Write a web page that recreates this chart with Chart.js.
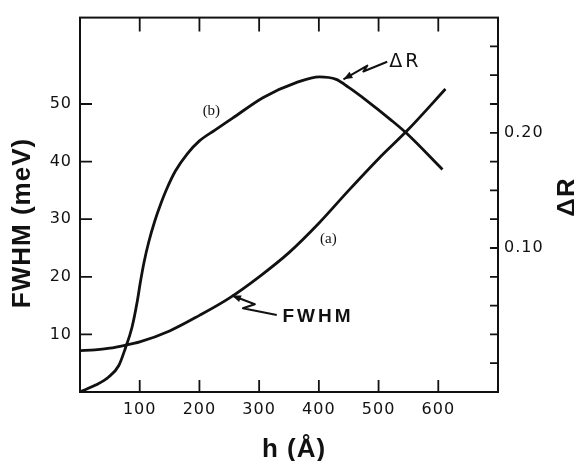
<!DOCTYPE html>
<html><head><meta charset="utf-8">
<script src="https://cdn.jsdelivr.net/npm/chart.js@4"></script>
<style>html,body{margin:0;padding:0;background:#fff}</style>
</head><body>
<canvas id="c" width="574" height="461"></canvas>
<script>
// ---- data ----
const hFWHM      = [0, 25, 50, 75, 100, 150, 200, 250, 300, 350, 400, 450, 500, 550, 612];
const fwhmValues = [7.2, 7.3, 7.6, 8.1, 8.7, 10.6, 13.3, 16.3, 20.0, 24.2, 29.3, 35.0, 40.5, 45.6, 52.6];

const hDeltaR      = [0, 26, 48, 65, 76, 87, 96, 101, 107, 115, 125, 135, 145, 160, 180, 200, 226, 255, 307, 362, 401, 429, 450, 480, 520, 546, 607];
const deltaRValues = [-0.025, -0.019, -0.012, -0.002, 0.013, 0.031, 0.054, 0.070, 0.087, 0.105, 0.123, 0.138, 0.151, 0.167, 0.182, 0.193, 0.2023, 0.2125, 0.2307, 0.2435, 0.2486, 0.2464, 0.2394, 0.2280, 0.2115, 0.2000, 0.1682];

const xTickValues     = [100, 200, 300, 400, 500, 600];
const leftTickValues  = [10, 20, 30, 40, 50];
const rightTickLabels = ['0.10', '0.20'];
const rightTickValues = [0, 0.025, 0.05, 0.075, 0.10, 0.125, 0.15, 0.175, 0.20, 0.225, 0.25, 0.275];

const toXY = (xs, ys) => xs.map((v, i) => ({x: v, y: ys[i]}));

const tickFont = {family: 'DejaVu Sans', size: 16};
const INK = '#111';
const SPACING = '1px';

const decor = {
  id: 'decor',
  beforeUpdate(chart){ chart.ctx.letterSpacing = SPACING; },
  beforeDraw(chart){
    const ctx = chart.ctx;
    ctx.save(); ctx.fillStyle = '#fff'; ctx.fillRect(0,0,chart.width,chart.height); ctx.restore();
    ctx.letterSpacing = SPACING;
  },
  afterDatasetsDraw(chart){
    const {ctx, chartArea: a, scales: {x, y, y1}} = chart;
    ctx.save();
    ctx.strokeStyle = INK; ctx.fillStyle = INK;
    ctx.lineWidth = 2;
    ctx.strokeRect(a.left, a.top, a.right - a.left, a.bottom - a.top);
    ctx.lineWidth = 1.8;
    ctx.beginPath();
    xTickValues.forEach(v => {
      const px = x.getPixelForValue(v);
      ctx.moveTo(px, a.bottom); ctx.lineTo(px, a.bottom - 12);
      ctx.moveTo(px, a.top); ctx.lineTo(px, a.top + 14);
    });
    leftTickValues.forEach(v => {
      const py = y.getPixelForValue(v);
      ctx.moveTo(a.left, py); ctx.lineTo(a.left + 12, py);
    });
    rightTickValues.forEach(v => {
      const py = y1.getPixelForValue(v);
      ctx.moveTo(a.right, py); ctx.lineTo(a.right - 8, py);
    });
    ctx.stroke();

    // squiggle arrows (data coordinates)
    const P = (h, m) => [x.getPixelForValue(h), y.getPixelForValue(m)];
    function squiggle(pts){
      const p = pts.map(q => P(q[0], q[1]));
      ctx.lineWidth = 2; ctx.lineJoin = 'round';
      ctx.beginPath(); ctx.moveTo(p[0][0], p[0][1]);
      for (let i = 1; i < p.length; i++) ctx.lineTo(p[i][0], p[i][1]);
      ctx.stroke();
      const dx = p[1][0] - p[0][0], dy = p[1][1] - p[0][1];
      const L = Math.hypot(dx, dy), ux = dx / L, uy = dy / L;
      ctx.beginPath();
      ctx.moveTo(p[0][0], p[0][1]);
      ctx.lineTo(p[0][0] + ux*9 - uy*3.5, p[0][1] + uy*9 + ux*3.5);
      ctx.lineTo(p[0][0] + ux*9 + uy*3.5, p[0][1] + uy*9 - ux*3.5);
      ctx.closePath(); ctx.fill();
    }
    squiggle([[254.5,16.76],[292.8,15.23],[272.8,14.55],[329.5,13.36]]);
    squiggle([[441.2,54.28],[481.2,56.66],[474.5,55.64],[514.5,57.34]]);

    // labels
    ctx.textBaseline = 'middle';
    ctx.textAlign = 'left';
    ctx.letterSpacing = '3px';
    ctx.font = 'bold 19px "Liberation Sans"';
    let q = P(339, 13.0); ctx.fillText('FWHM', q[0], q[1]);
    ctx.font = '19px "DejaVu Sans"';
    q = P(518, 57.2); ctx.fillText('ΔR', q[0], q[1]);
    ctx.letterSpacing = '0px';
    ctx.textAlign = 'center';
    ctx.font = '15px "Liberation Serif"';
    q = P(220, 48.7); ctx.fillText('(b)', q[0], q[1]);
    q = P(416, 26.6); ctx.fillText('(a)', q[0], q[1]);

    // axis titles
    ctx.font = 'bold 26px "Liberation Sans"';
    ctx.letterSpacing = '1px';
    ctx.save(); ctx.translate(23, 223); ctx.rotate(-Math.PI/2); ctx.fillText('FWHM (meV)', 0, 0); ctx.restore();
    ctx.save(); ctx.translate(568, 197); ctx.rotate(-Math.PI/2); ctx.fillText('ΔR', 0, 0); ctx.restore();
    ctx.textBaseline = 'alphabetic';
    ctx.fillText('h (Å)', 294, 457);
    ctx.restore();
    ctx.letterSpacing = SPACING;
  }
};

new Chart(document.getElementById('c'), {
  type: 'line',
  data: {
    datasets: [
      {label: 'FWHM', data: toXY(hFWHM, fwhmValues), yAxisID: 'y',
       borderColor: INK, borderWidth: 2.8, pointRadius: 0, cubicInterpolationMode: 'monotone', fill: false},
      {label: 'ΔR', data: toXY(hDeltaR, deltaRValues), yAxisID: 'y1',
       borderColor: INK, borderWidth: 2.8, pointRadius: 0, cubicInterpolationMode: 'monotone', fill: false}
    ]
  },
  options: {
    responsive: false, animation: false,
    layout: {padding: {top: 9, left: 0, right: 0, bottom: 0}},
    plugins: {legend: {display: false}, tooltip: {enabled: false}},
    scales: {
      x: {type: 'linear', position: 'bottom', min: 0, max: 700,
          afterFit: s => { s.height = 69; },
          grid: {display: false, drawTicks: false}, border: {display: false},
          ticks: {stepSize: 100, padding: 8, color: INK, font: tickFont,
                  callback: v => xTickValues.includes(v) ? String(v) : ''}},
      y: {position: 'left', min: 0, max: 65,
          afterFit: s => { s.width = 80; },
          grid: {display: false, drawTicks: false}, border: {display: false},
          ticks: {stepSize: 10, padding: 8, color: INK, font: tickFont,
                  callback: v => leftTickValues.includes(v) ? String(v) : ''}},
      y1: {position: 'right', min: -0.025, max: 0.3,
          afterFit: s => { s.width = 76; },
          grid: {display: false, drawTicks: false}, border: {display: false},
          ticks: {stepSize: 0.025, padding: 6, color: INK, font: tickFont,
                  callback: v => { const i = [0.10, 0.20].findIndex(t => Math.abs(t - v) < 1e-6); return i >= 0 ? rightTickLabels[i] : ''; }}}
    }
  },
  plugins: [decor]
});
</script>
</body></html>
